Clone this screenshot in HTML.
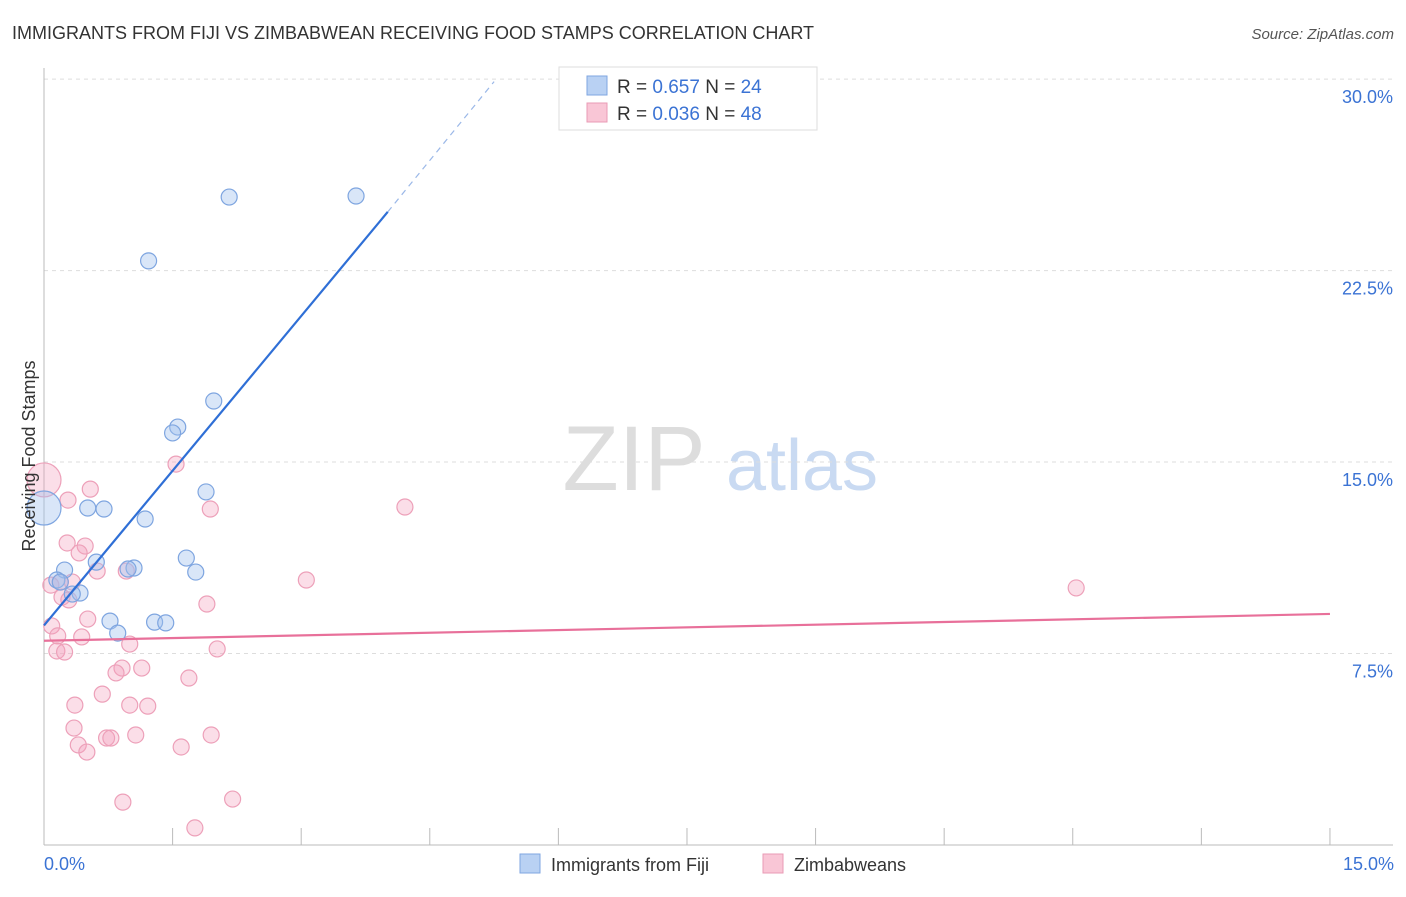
<!DOCTYPE html>
<html><head><meta charset="utf-8"><style>
body{margin:0;background:#fff;font-family:"Liberation Sans",sans-serif;}
svg text{font-family:"Liberation Sans",sans-serif;}
</style></head><body>
<svg width="1406" height="892" viewBox="0 0 1406 892">
<text x="12" y="39" font-size="18" fill="#333">IMMIGRANTS FROM FIJI VS ZIMBABWEAN RECEIVING FOOD STAMPS CORRELATION CHART</text>
<text x="1394" y="39" font-size="15" fill="#555" font-style="italic" text-anchor="end">Source: ZipAtlas.com</text>
<g>
<text x="634" y="490" font-size="92" fill="#ddd" font-family="Liberation Serif" text-anchor="middle">ZIP</text>
<text x="802" y="490" font-size="72" fill="#c9daf2" text-anchor="middle">atlas</text>
</g>
<g id="grid"></g>
<g id="axes"></g>
<g id="marks"></g>
<text x="35" y="456" font-size="18" fill="#333" text-anchor="middle" transform="rotate(-90 35 456)">Receiving Food Stamps</text>
<text x="44" y="870" font-size="18" fill="#3b73d4">0.0%</text>
<text x="1394" y="870" font-size="18" fill="#3b73d4" text-anchor="end">15.0%</text>
<g>
<rect x="559" y="67" width="258" height="63" fill="#fff" stroke="#ddd"/>
<rect x="587" y="76" width="20" height="19" fill="#b9d1f3" stroke="#7fa6e0"/>
<rect x="587" y="103" width="20" height="19" fill="#f9c6d6" stroke="#e99bb5"/>
<text x="617" y="93" font-size="19" fill="#333">R = <tspan fill="#3b73d4">0.657</tspan>   N = <tspan fill="#3b73d4">24</tspan></text>
<text x="617" y="120" font-size="19" fill="#333">R = <tspan fill="#3b73d4">0.036</tspan>   N = <tspan fill="#3b73d4">48</tspan></text>
</g>
<g>
<rect x="520" y="854" width="20" height="19" fill="#b9d1f3" stroke="#7fa6e0"/>
<text x="551" y="871" font-size="18" fill="#333">Immigrants from Fiji</text>
<rect x="763" y="854" width="20" height="19" fill="#f9c6d6" stroke="#e99bb5"/>
<text x="794" y="871" font-size="18" fill="#333">Zimbabweans</text>
</g>
</svg>
<script>
const yTicks=[7.5,15,22.5,30];
const yTickLabels=["7.5%","15.0%","22.5%","30.0%"];
const xTicks=[0,1.5,3,4.5,6,7.5,9,10.5,12,13.5,15];
const fijiX=[2.16,3.64,1.22,1.98,1.56,1.50,1.89,0.51,0.70,1.18,0,1.66,0.61,1.05,0.98,1.77,0.24,0.15,0.19,0.42,0.33,0.77,1.29,1.42,0.86];
const fijiY=[25.38,25.42,22.88,17.39,16.37,16.14,13.83,13.2,13.16,12.77,13.2,11.24,11.08,10.85,10.81,10.69,10.77,10.38,10.3,9.87,9.83,8.77,8.73,8.7,8.3];
const fijiR=[8,8,8,8,8,8,8,8,8,8,17,8,8,8,8,8,8,8,8,8,8,8,8,8,8];
const zimX=[0,1.54,0.54,0.28,1.94,4.21,0.27,0.48,0.41,0.62,0.96,3.06,12.04,0.08,0.19,0.33,0.21,0.29,1.90,0.51,0.09,0.16,0.44,1.0,0.15,0.24,2.02,0.91,0.84,1.14,1.69,0.68,0.36,1.0,1.21,0.35,0.40,0.50,0.73,0.78,1.07,1.60,1.95,0.92,2.20,1.76];
const zimY=[14.3,14.92,13.94,13.51,13.16,13.24,11.83,11.71,11.44,10.73,10.73,10.38,10.07,10.18,10.3,10.3,9.71,9.6,9.44,8.85,8.58,8.19,8.15,7.87,7.6,7.56,7.68,6.93,6.74,6.93,6.54,5.91,5.48,5.48,5.44,4.58,3.92,3.64,4.19,4.19,4.31,3.84,4.31,1.68,1.80,0.67];
const fijiTrend=[[0,8.6],[4.01,24.8],[5.25,29.9]];
const zimTrend=[[0,8.0],[15,9.05]];
const NS="http://www.w3.org/2000/svg";
const sx=v=>44+v*85.73, sy=v=>845-v*25.53;
function mk(tag,attrs,parent){const e=document.createElementNS(NS,tag);for(const k in attrs)e.setAttribute(k,attrs[k]);document.getElementById(parent).appendChild(e);return e;}
yTicks.forEach((t,i)=>{
 const l=mk('line',{x1:44,x2:1393,y1:sy(t),y2:sy(t),stroke:'#ddd','stroke-dasharray':'4,4'},'grid');
 
 
 const tx=mk('text',{x:1393,y:sy(t)+24,'font-size':18,fill:'#3b73d4','text-anchor':'end'},'grid');
 tx.textContent=yTickLabels[i];
 
 
});
const ax=mk('line',{x1:44,x2:1393,y1:845,y2:845,stroke:'#bbb'},'axes');


const ay=mk('line',{x1:44,x2:44,y1:68,y2:845,stroke:'#bbb'},'axes');


xTicks.forEach(t=>{
 const l=mk('line',{x1:sx(t),x2:sx(t),y1:828,y2:845,stroke:'#bbb'},'axes');
 
 
});
zimX.forEach((x,i)=>{
 const c=mk('circle',{cx:sx(x),cy:sy(zimY[i]),r:i==0?17:8,fill:'rgba(244,160,188,0.35)',stroke:'#eda0b9','stroke-width':1.2},'marks');
 
 
});
fijiX.forEach((x,i)=>{
 const c=mk('circle',{cx:sx(x),cy:sy(fijiY[i]),r:fijiR[i],fill:'rgba(160,192,238,0.4)',stroke:'#7ea5e0','stroke-width':1.2},'marks');
 
 
});
const t1=mk('line',{x1:sx(fijiTrend[0][0]),y1:sy(fijiTrend[0][1]),x2:sx(fijiTrend[1][0]),y2:sy(fijiTrend[1][1]),stroke:'#2f6fd6','stroke-width':2.2},'marks');


const t2=mk('line',{x1:sx(fijiTrend[1][0]),y1:sy(fijiTrend[1][1]),x2:sx(fijiTrend[2][0]),y2:sy(fijiTrend[2][1]),stroke:'#9bb8e8','stroke-width':1.2,'stroke-dasharray':'6,5'},'marks');


const t3=mk('line',{x1:sx(zimTrend[0][0]),y1:sy(zimTrend[0][1]),x2:sx(zimTrend[1][0]),y2:sy(zimTrend[1][1]),stroke:'#e8709a','stroke-width':2.2},'marks');


</script>
</body></html>
